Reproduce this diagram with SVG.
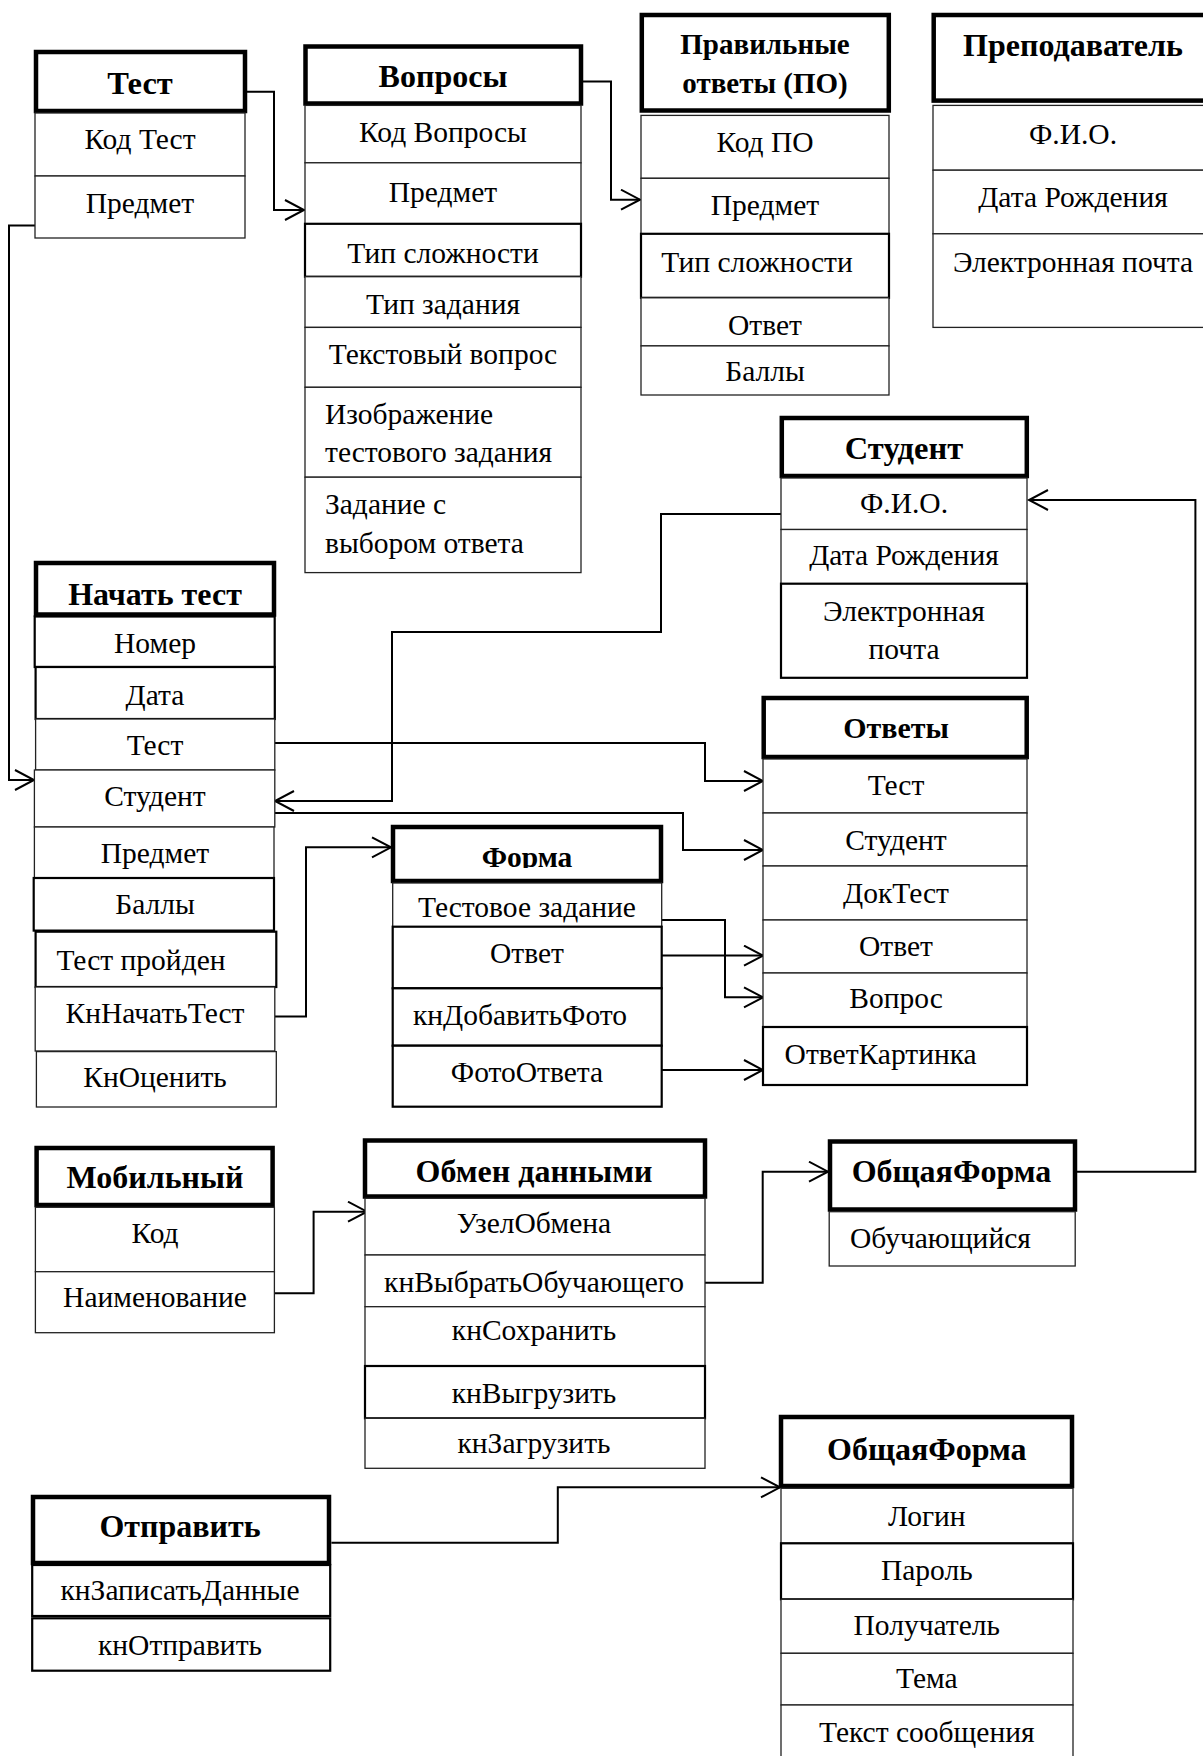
<svg xmlns="http://www.w3.org/2000/svg" width="1203" height="1756" viewBox="0 0 1203 1756">
<style>
.hd{fill:#fff;stroke:#000;stroke-width:4.5}
.rw{fill:#fff;stroke:#222;stroke-width:1.3}
.rb{fill:#fff;stroke:#000;stroke-width:2.2}
text{font-family:"Liberation Serif","Times New Roman",serif;font-size:29.5px;fill:#000;text-anchor:middle}
.h{font-weight:bold;font-size:32px}
.l{text-anchor:start}
.cn{fill:none;stroke:#000;stroke-width:2}
</style>
<defs>
<marker id="a" markerUnits="userSpaceOnUse" markerWidth="24" markerHeight="24" refX="20" refY="11" orient="auto"><path d="M1,1 L20,11 L1,21" fill="none" stroke="#000" stroke-width="2"/></marker>
<clipPath id="fc"><rect x="380" y="820" width="300" height="48"/></clipPath>
</defs>
<rect width="1203" height="1756" fill="#fff"/>

<g id="connectors">
<path class="cn" d="M247,91.7 H274 V210 H304" marker-end="url(#a)"/>
<path class="cn" d="M583,81.4 H611 V199.7 H640" marker-end="url(#a)"/>
<path class="cn" d="M35,225.6 H9 V780 H34" marker-end="url(#a)"/>
<path class="cn" d="M781,514 H661 V632 H392 V801 H275" marker-end="url(#a)"/>
<path class="cn" d="M275,743 H705 V781 H763" marker-end="url(#a)"/>
<path class="cn" d="M275,813 H683 V850 H763" marker-end="url(#a)"/>
<path class="cn" d="M275,1016.4 H306 V847.3 H391" marker-end="url(#a)"/>
<path class="cn" d="M662,920 H725 V997.3 H763" marker-end="url(#a)"/>
<path class="cn" d="M662,955.6 H763" marker-end="url(#a)"/>
<path class="cn" d="M662,1070 H763" marker-end="url(#a)"/>
<path class="cn" d="M274.6,1293.3 H313.6 V1211.7 H367" marker-end="url(#a)"/>
<path class="cn" d="M705,1282.7 H762.7 V1171.7 H828" marker-end="url(#a)"/>
<path class="cn" d="M1077,1171.7 H1195.4 V500 H1029" marker-end="url(#a)"/>
<path class="cn" d="M331.4,1542.7 H557.8 V1487.3 H780" marker-end="url(#a)"/>
</g>

<g id="test">
<rect class="hd" x="36" y="52" width="209" height="59"/>
<rect class="rw" x="35" y="113" width="210" height="63"/>
<rect class="rw" x="35" y="176" width="210" height="62"/>
<text class="h" x="140" y="94" style="font-size:32.5px">Тест</text>
<text x="140" y="149">Код Тест</text>
<text x="140" y="213">Предмет</text>
</g>

<g id="voprosy">
<rect class="hd" x="305.5" y="46.5" width="275.5" height="57"/>
<rect class="rw" x="305" y="105.4" width="276" height="57.4"/>
<rect class="rw" x="305" y="162.8" width="276" height="61"/>
<rect class="rb" x="305" y="223.8" width="276" height="52.9"/>
<rect class="rw" x="305" y="276.7" width="276" height="50.7"/>
<rect class="rw" x="305" y="327.4" width="276" height="59.9"/>
<rect class="rw" x="305" y="387.3" width="276" height="89.9"/>
<rect class="rw" x="305" y="477.2" width="276" height="95.4"/>
<text class="h" x="443" y="87">Вопросы</text>
<text x="443" y="142.4">Код Вопросы</text>
<text x="443" y="201.6">Предмет</text>
<text x="443" y="262.6">Тип сложности</text>
<text x="443" y="313.7">Тип задания</text>
<text x="443" y="364.4">Текстовый вопрос</text>
<text class="l" x="325" y="423.5">Изображение</text>
<text class="l" x="325" y="462.4">тестового задания</text>
<text class="l" x="325" y="514">Задание с</text>
<text class="l" x="325" y="553">выбором ответа</text>
</g>

<g id="pravilnye">
<rect class="hd" x="641.8" y="15" width="247" height="95.5"/>
<rect class="rw" x="641" y="115.4" width="248" height="62.9"/>
<rect class="rw" x="641" y="178.3" width="248" height="55.5"/>
<rect class="rb" x="641" y="233.8" width="248" height="64"/>
<rect class="rw" x="641" y="297.8" width="248" height="48.1"/>
<rect class="rw" x="641" y="345.9" width="248" height="49.1"/>
<text class="h" x="765" y="53.6" style="font-size:29px">Правильные</text>
<text class="h" x="765" y="92.5" style="font-size:29px">ответы (ПО)</text>
<text x="765" y="151.7">Код ПО</text>
<text x="765" y="214.5">Предмет</text>
<text x="757" y="271.9">Тип сложности</text>
<text x="765" y="334.8">Ответ</text>
<text x="765" y="381">Баллы</text>
</g>

<g id="prepodavatel">
<rect class="hd" x="933.7" y="15" width="300" height="85.6"/>
<rect class="rw" x="933" y="105.4" width="300" height="64.8"/>
<rect class="rw" x="933" y="170.2" width="300" height="63.6"/>
<rect class="rw" x="933" y="233.8" width="300" height="93.6"/>
<text class="h" x="1073" y="55.5">Преподаватель</text>
<text x="1073" y="144.3">Ф.И.О.</text>
<text x="1073" y="207">Дата Рождения</text>
<text x="1073" y="272">Электронная почта</text>
</g>

<g id="student">
<rect class="hd" x="781.8" y="418" width="245" height="58"/>
<rect class="rw" x="781" y="478" width="246" height="51.5"/>
<rect class="rw" x="781" y="529.5" width="246" height="54.2"/>
<rect class="rb" x="781" y="583.7" width="246" height="94.1"/>
<text class="h" x="904" y="458.8" style="font-size:32.5px">Студент</text>
<text x="904" y="512.5">Ф.И.О.</text>
<text x="904" y="565">Дата Рождения</text>
<text x="904" y="621">Электронная</text>
<text x="904" y="659">почта</text>
</g>

<g id="otvety">
<rect class="hd" x="763.7" y="698" width="263" height="59"/>
<rect class="rw" x="763" y="759" width="264" height="54"/>
<rect class="rw" x="763" y="813" width="264" height="53"/>
<rect class="rw" x="763" y="866" width="264" height="54"/>
<rect class="rw" x="763" y="920" width="264" height="53"/>
<rect class="rw" x="763" y="973" width="264" height="54"/>
<rect class="rb" x="763" y="1027" width="264" height="58"/>
<text class="h" x="896" y="737.5" style="font-size:30px">Ответы</text>
<text x="896" y="795">Тест</text>
<text x="896" y="850">Студент</text>
<text x="896" y="903">ДокТест</text>
<text x="896" y="955.6">Ответ</text>
<text x="896" y="1008">Вопрос</text>
<text class="l" x="784.6" y="1063.5">ОтветКартинка</text>
</g>

<g id="nachat-test">
<rect class="hd" x="36" y="563" width="238" height="51.5"/>
<rect class="rb" x="34.7" y="616.5" width="240" height="50.5"/>
<rect class="rb" x="35.6" y="667" width="239.2" height="52"/>
<rect class="rw" x="35.6" y="719" width="239.2" height="51"/>
<rect class="rw" x="34.4" y="770" width="240.4" height="57"/>
<rect class="rw" x="34.4" y="827" width="239.6" height="51"/>
<rect class="rb" x="33.7" y="878" width="240.3" height="52.6"/>
<rect class="rb" x="35.6" y="931.7" width="240.7" height="55.3"/>
<rect class="rw" x="35.2" y="987" width="239.6" height="64"/>
<rect class="rw" x="36.4" y="1051.6" width="239.9" height="55.4"/>
<text class="h" x="155" y="604.5">Начать тест</text>
<text x="155" y="652.5">Номер</text>
<text x="155" y="704.5">Дата</text>
<text x="155" y="755">Тест</text>
<text x="155" y="806">Студент</text>
<text x="155" y="862.6">Предмет</text>
<text x="155" y="913.5">Баллы</text>
<text x="141" y="970">Тест пройден</text>
<text x="155" y="1022.5">КнНачатьТест</text>
<text x="155" y="1087">КнОценить</text>
</g>

<g id="forma">
<rect class="hd" x="393" y="827" width="268" height="54"/>
<rect class="rw" x="392.7" y="883" width="269" height="43.7"/>
<rect class="rb" x="392.7" y="926.7" width="269" height="61.6"/>
<rect class="rb" x="392.7" y="988.3" width="269" height="57.4"/>
<rect class="rb" x="392.7" y="1045.7" width="269" height="61"/>
<text class="h" x="527" y="867" style="font-size:29.5px" clip-path="url(#fc)">Форма</text>
<text x="527" y="916.7">Тестовое задание</text>
<text x="527" y="963">Ответ</text>
<text x="520" y="1025">кнДобавитьФото</text>
<text x="527" y="1081.7">ФотоОтвета</text>
</g>

<g id="mobilny">
<rect class="hd" x="36.6" y="1148" width="236" height="57"/>
<rect class="rw" x="35.4" y="1207.3" width="239" height="64.4"/>
<rect class="rw" x="35.4" y="1271.7" width="239" height="61"/>
<text class="h" x="155" y="1188.3">Мобильный</text>
<text x="155" y="1243.3">Код</text>
<text x="155" y="1306.7">Наименование</text>
</g>

<g id="obmen">
<rect class="hd" x="365" y="1140.5" width="340" height="56"/>
<rect class="rw" x="365" y="1198.3" width="340" height="56.7"/>
<rect class="rw" x="365" y="1255" width="340" height="51.7"/>
<rect class="rw" x="365" y="1306.7" width="340" height="59.3"/>
<rect class="rb" x="365" y="1366" width="340" height="52.3"/>
<rect class="rw" x="365" y="1418.3" width="340" height="50"/>
<text class="h" x="534" y="1181.7">Обмен данными</text>
<text x="534" y="1233.3">УзелОбмена</text>
<text x="534" y="1291.7">кнВыбратьОбучающего</text>
<text x="534" y="1340">кнСохранить</text>
<text x="534" y="1403.3">кнВыгрузить</text>
<text x="534" y="1453.3">кнЗагрузить</text>
</g>

<g id="obshaya-forma-1">
<rect class="hd" x="830" y="1141.5" width="245" height="68"/>
<rect class="rw" x="829.2" y="1211.7" width="246" height="54.3"/>
<text class="h" x="951.5" y="1181.7">ОбщаяФорма</text>
<text class="l" x="850" y="1248.3">Обучающийся</text>
</g>

<g id="obshaya-forma-2">
<rect class="hd" x="781" y="1417" width="291" height="69"/>
<rect class="rw" x="781" y="1488.3" width="292" height="55"/>
<rect class="rb" x="781" y="1543.3" width="292" height="56"/>
<rect class="rw" x="781" y="1599.3" width="292" height="54"/>
<rect class="rw" x="781" y="1653.3" width="292" height="51.7"/>
<rect class="rw" x="781" y="1705" width="292" height="70"/>
<text class="h" x="926.8" y="1460">ОбщаяФорма</text>
<text x="926.8" y="1526">Логин</text>
<text x="926.8" y="1580">Пароль</text>
<text x="926.8" y="1635">Получатель</text>
<text x="926.8" y="1688.3">Тема</text>
<text x="926.8" y="1741.7">Текст сообщения</text>
</g>

<g id="otpravit">
<rect class="hd" x="33" y="1497" width="296" height="66"/>
<rect class="rb" x="32.2" y="1565" width="298" height="51"/>
<rect class="rb" x="32.2" y="1618.3" width="298" height="52.4"/>
<text class="h" x="180" y="1537.3">Отправить</text>
<text x="180" y="1600">кнЗаписатьДанные</text>
<text x="180" y="1655">кнОтправить</text>
</g>
</svg>
